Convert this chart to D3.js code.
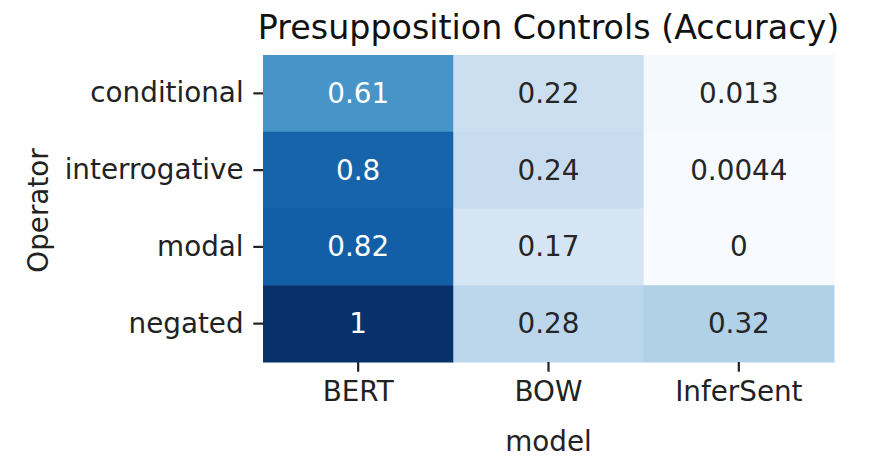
<!DOCTYPE html>
<html lang="en">
<head>
<meta charset="UTF-8">
<title>Presupposition Controls (Accuracy)</title>
<script src="https://d3js.org/d3.v7.min.js"></script>
<style>
body{ margin:0; background:#fff; }
svg{ display:block; font-family:"DejaVu Sans", sans-serif; }
.axis path{ display:none; }
.axis line{ stroke:#222; stroke-width:2.2px; }
.axis text{ font-family:"DejaVu Sans", sans-serif; font-size:27.8px; fill:#222; }
.cell-text{ font-size:27.8px; text-anchor:middle; dominant-baseline:central; }
</style>
</head>
<body>
<script>
// data
var models = ['BERT', 'BOW', 'InferSent'];
var operators = ['conditional', 'interrogative', 'modal', 'negated'];
var bertAcc = [0.61, 0.8, 0.82, 1];
var bowAcc = [0.22, 0.24, 0.17, 0.28];
var inferSentAcc = [0.013, 0.0044, 0, 0.32];

var width = 892, height = 462;
var margin = {left:263, right:58, top:55, bottom:100};
var innerW = width - margin.left - margin.right;
var innerH = height - margin.top - margin.bottom;

var series = [bertAcc, bowAcc, inferSentAcc];
var cells = [];
models.forEach(function(m, i){
    operators.forEach(function(op, j){
        cells.push({model:m, op:op, value:series[i][j]});
    });
});

// matplotlib "Blues" colormap (linear through the ColorBrewer stops)
var bluesStops = ['#f7fbff','#deebf7','#c6dbef','#9ecae1','#6baed6','#4292c6','#2171b5','#08519c','#08306b'];
var color = d3.scaleLinear()
    .domain(bluesStops.map(function(d, i){ return i / (bluesStops.length - 1); }))
    .range(bluesStops)
    .clamp(true);

function luminance(c){
    var rgb = d3.rgb(c);
    var f = function(v){ v /= 255; return v <= 0.03928 ? v / 12.92 : Math.pow((v + 0.055) / 1.055, 2.4); };
    return 0.2126 * f(rgb.r) + 0.7152 * f(rgb.g) + 0.0722 * f(rgb.b);
}

var fmt = d3.format('.2~g');

var svg = d3.select('body').append('svg')
    .attr('width', width)
    .attr('height', height);

var xScale = d3.scaleBand().domain(models).range([0, innerW]);
var yScale = d3.scaleBand().domain(operators).range([0, innerH]);

var g = svg.append('g')
    .attr('transform', 'translate(' + margin.left + ',' + margin.top + ')');

g.selectAll('.cell')
    .data(cells)
    .enter()
    .append('rect')
    .attr('class', 'cell')
    .attr('x', function(d){ return xScale(d.model); })
    .attr('y', function(d){ return yScale(d.op); })
    .attr('width', xScale.bandwidth() + 0.5)
    .attr('height', yScale.bandwidth() + 0.5)
    .attr('fill', function(d){ return color(d.value); });

g.selectAll('.cell-text')
    .data(cells)
    .enter()
    .append('text')
    .attr('class', 'cell-text')
    .attr('x', function(d){ return xScale(d.model) + xScale.bandwidth() / 2; })
    .attr('y', function(d){ return yScale(d.op) + yScale.bandwidth() / 2; })
    .attr('fill', function(d){ return luminance(color(d.value)) > 0.408 ? '#262626' : '#ffffff'; })
    .text(function(d){ return fmt(d.value); });

// axes
g.append('g')
    .attr('class', 'axis')
    .call(d3.axisLeft(yScale).tickSize(9.7).tickPadding(9.7))
    .attr('font-family', 'DejaVu Sans')
    .attr('font-size', 27.8);

g.append('g')
    .attr('class', 'axis')
    .attr('transform', 'translate(0,' + innerH + ')')
    .call(d3.axisBottom(xScale).tickSize(9.7).tickPadding(9.7))
    .attr('font-family', 'DejaVu Sans')
    .attr('font-size', 27.8);

// title and axis labels
svg.append('text')
    .attr('x', margin.left + innerW / 2)
    .attr('y', 39)
    .attr('text-anchor', 'middle')
    .attr('font-size', '33.3px')
    .attr('fill', '#111')
    .text('Presupposition Controls (Accuracy)');

svg.append('text')
    .attr('x', margin.left + innerW / 2)
    .attr('y', 451)
    .attr('text-anchor', 'middle')
    .attr('font-size', '27.8px')
    .attr('fill', '#222')
    .text('model');

svg.append('text')
    .attr('transform', 'translate(48,' + (margin.top + innerH / 2 + 2) + ') rotate(-90)')
    .attr('text-anchor', 'middle')
    .attr('font-size', '27.8px')
    .attr('fill', '#222')
    .text('Operator');
</script>
</body>
</html>
